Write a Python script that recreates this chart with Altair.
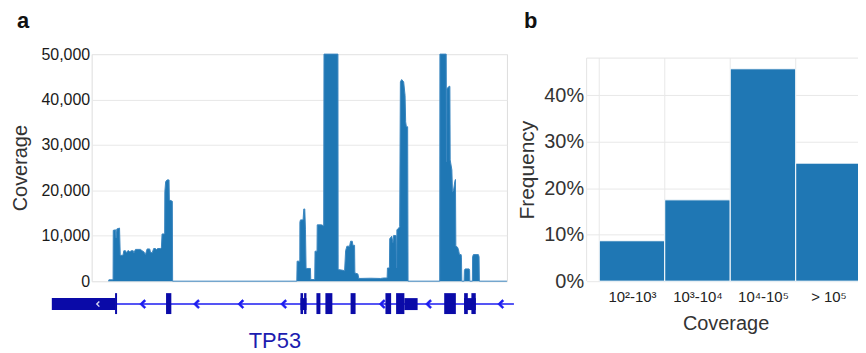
import json
import altair as alt
import pandas as pd

FONT = "Liberation Sans"

# ---------------- Panel a: coverage along TP53 (track position units) ----------------
cov_pos = [
    17.0, 17.3, 21.5, 21.7, 24.0, 24.5, 25.3, 28.0, 28.7, 29.0, 31.5, 32.3, 34.0, 35.0,
    36.3, 37.3, 38.3, 39.7, 41.7, 42.3, 44.0, 49.0, 50.7, 52.3, 54.0, 55.7, 58.3, 59.0,
    60.7, 62.3, 64.0, 65.0, 66.3, 69.0, 70.0, 70.7, 73.3, 73.5, 74.3, 75.7, 77.7, 78.0,
    81.0, 81.3, 206.0,
    206.3, 209.0, 209.1, 209.7, 212.3, 213.0, 214.0, 214.7, 215.3, 219.7, 220.0, 224.0,
    224.3, 226.3, 226.5, 230.7, 233.0, 233.3, 247.3, 247.5, 252.3, 254.0, 255.0, 256.3,
    259.0, 260.0, 261.7, 262.3, 264.0, 264.3, 267.3, 268.3, 280.0, 290.0, 293.3, 296.7,
    297.0, 299.0, 299.3, 301.3, 302.5, 303.3, 305.7, 306.2, 306.5, 308.3, 309.3, 310.0,
    311.3, 313.3, 314.7, 315.3, 316.0, 317.3, 317.7, 349.5,
    349.7, 356.0, 356.3, 356.6, 359.0, 359.7, 360.0, 361.7, 362.3, 363.3, 364.7, 365.3,
    365.7, 367.3, 368.3, 369.3, 371.0, 371.3, 371.7, 374.0, 374.3, 375.0, 379.0, 379.5,
    379.7, 382.3, 382.5, 383.3, 388.3, 389.0, 389.3, 417.0,
]
cov_val = [
    0, 300, 300, 11200, 11300, 9500, 11500, 11700, 5800, 5700, 5700, 6700, 6700, 6200,
    6700, 6700, 6450, 6700, 6700, 6200, 7000, 7000, 6700, 6500, 5850, 7100, 7100, 6450,
    6200, 7200, 7200, 6950, 7200, 7200, 7300, 10400, 10400, 19700, 21900, 22300, 22300, 17900,
    17600, 0, 0,
    4400, 4400, 13000, 13500, 13500, 15900, 15900, 11300, 2800, 2800, 370, 370,
    6600, 6600, 12400, 12400, 12200, 60000, 60000, 2550, 2400, 2300, 6700, 7700,
    7700, 8800, 8800, 7900, 7900, 1800, 1600, 600, 650, 600, 700, 700,
    2900, 2900, 9350, 9900, 8500, 10100, 10000, 2900, 11300, 11700, 12000, 43900,
    44400, 43900, 40900, 35100, 34000, 34000, 0, 0,
    60000, 60000, 26300, 42400, 42900, 42900, 26700, 24500, 19700, 19900, 22000, 22400,
    7700, 7500, 7000, 5850, 5850, 5300, 0, 0, 2400, 2700, 2700, 2400,
    0, 0, 5400, 5850, 5850, 5400, 0, 0,
]
cov_ticks = [0, 10000, 20000, 30000, 40000, 50000]

# gene model (same position units)
thick_start = [-40, 209.7, 314.0, 374.0]
thick_end = [24.0, 215.7, 327.3, 385.7]
exon_start = [23.5, 74.7, 209.7, 213.3, 225.7, 234.7, 260.0, 295.0, 305.7, 354.0, 374.0, 381.3]
exon_end = [25.5, 80.0, 212.3, 215.7, 229.7, 241.7, 265.0, 300.7, 314.0, 365.7, 377.7, 385.7]
intron_start = [24.0]
intron_end = [424.0]
arrow_pos = [51, 105, 149.5, 192.5, 291.5, 338, 410.5]
utr_arrow_pos = [6]
gene_name = ["TP53"]
gene_label_pos = [184]

panel_labels = ["a", "b"]

# ---------------- Panel b: coverage histogram ----------------
bins = ["10²-10³", "10³-10⁴", "10⁴-10⁵", "> 10⁵"]
freq = [0.087, 0.175, 0.457, 0.254]
freq_ticks = [0, 0.1, 0.2, 0.3, 0.4]

EXON = "#0a0aa8"
LINE = "#1c1cf0"
GRID = "#e8e8e8"
AREA = "#1f77b4"

# ---------------- build panel a ----------------
xa = alt.Scale(domain=[0, 417], nice=False, zero=False)
ya = alt.Scale(domain=[0, 50000], nice=False, clamp=True)

cov_df = pd.DataFrame({"pos": cov_pos, "coverage": cov_val})
area = alt.Chart(cov_df).mark_area(
    color=AREA, opacity=1, line={"color": "#3a86c0", "strokeWidth": 1}
).encode(
    x=alt.X("pos:Q", scale=xa, axis=None),
    y=alt.Y(
        "coverage:Q", scale=ya,
        axis=alt.Axis(
            values=cov_ticks, format=",.0f", title="Coverage", grid=True, gridColor=GRID,
            ticks=False, domain=False, labelFontSize=16, labelColor="#1a1a1a", labelFont=FONT,
            labelPadding=2, titleFontSize=20, titleFont=FONT, titleFontWeight="normal",
            titleColor="#333", titlePadding=10,
        ),
    ),
)

intron = alt.Chart(pd.DataFrame({"s": intron_start, "e": intron_end})).mark_rule(
    color=LINE, strokeWidth=1.5
).encode(x=alt.X("s:Q", scale=xa), x2="e:Q", y=alt.value(251))

thick = alt.Chart(pd.DataFrame({"s": thick_start, "e": thick_end})).mark_rect(
    color=EXON
).encode(x=alt.X("s:Q", scale=xa), x2="e:Q", y=alt.value(245), y2=alt.value(257))

exons = alt.Chart(pd.DataFrame({"s": exon_start, "e": exon_end})).mark_rect(
    color=EXON
).encode(x=alt.X("s:Q", scale=xa), x2="e:Q", y=alt.value(240), y2=alt.value(261))

CHEV = "M-0.6,0L0.4,-1L0.75,-0.7L0.05,0L0.75,0.7L0.4,1Z"
arrows = alt.Chart(pd.DataFrame({"p": arrow_pos})).mark_point(
    shape=CHEV, filled=True, strokeWidth=0.6, stroke=LINE, fill=LINE, size=81, opacity=1
).encode(x=alt.X("p:Q", scale=xa), y=alt.value(251))

utr_arrow = alt.Chart(pd.DataFrame({"p": utr_arrow_pos})).mark_point(
    shape=CHEV, filled=True, fill="#d8d8f0", size=36, opacity=1
).encode(x=alt.X("p:Q", scale=xa), y=alt.value(251))

gname = alt.Chart(pd.DataFrame({"p": gene_label_pos, "t": gene_name})).mark_text(
    font=FONT, fontSize=22, color="#1c1cb0", align="center", baseline="alphabetic"
).encode(x=alt.X("p:Q", scale=xa), y=alt.value(295), text="t:N")

lab_a = alt.Chart(pd.DataFrame({"t": panel_labels[:1]})).mark_text(
    font=FONT, fontSize=22, fontWeight="bold", color="#111", align="left", baseline="alphabetic"
).encode(x=alt.value(-75), y=alt.value(-26), text="t:N")

panel_a = alt.layer(area, intron, thick, exons, arrows, utr_arrow, gname, lab_a).properties(
    width=417, height=228
)

# ---------------- build panel b ----------------
XB0, XB1 = -0.193, 4.05
YB1 = 0.48
xb = alt.Scale(domain=[XB0, XB1], nice=False, zero=False)
yb = alt.Scale(domain=[0, YB1], nice=False, zero=False, range=[228, 4])

n = len(bins)
bar_df = pd.DataFrame({"bin": bins, "freq": freq, "lo": list(range(n)), "hi": [i + 1 for i in range(n)]})
label_expr = json.dumps(bins, ensure_ascii=False) + "[floor(datum.value)]"

vgrid = alt.Chart(pd.DataFrame({"e": list(range(n + 1))})).mark_rule(
    color=GRID, strokeWidth=1
).encode(x=alt.X("e:Q", scale=xb), y=alt.datum(0, scale=yb), y2=alt.datum(YB1))

frame_top = alt.Chart(pd.DataFrame({"a": [XB0], "b": [XB1]})).mark_rule(
    color="#e4e4e4", strokeWidth=1
).encode(x=alt.X("a:Q", scale=xb), x2="b:Q", y=alt.datum(YB1, scale=yb))
frame_left = alt.Chart(pd.DataFrame({"a": [XB0]})).mark_rule(
    color="#e4e4e4", strokeWidth=1
).encode(x=alt.X("a:Q", scale=xb), y=alt.datum(0, scale=yb), y2=alt.datum(YB1))

bars = alt.Chart(bar_df).mark_rect(color=AREA, stroke="white", strokeWidth=1).encode(
    x=alt.X(
        "lo:Q", scale=xb,
        axis=alt.Axis(
            values=[i + 0.5 for i in range(n)], labelExpr=label_expr, grid=False, ticks=False,
            domain=False, labelFontSize=15, labelFont=FONT, labelColor="#222", labelPadding=8,
            title="Coverage", titleFontSize=20, titleFont=FONT, titleFontWeight="normal",
            titleColor="#333", titlePadding=10,
        ),
    ),
    x2="hi:Q",
    y=alt.Y(
        "freq:Q", scale=yb,
        axis=alt.Axis(
            values=freq_ticks, format=".0%", grid=True, gridColor=GRID, ticks=False, domain=False,
            labelFontSize=20, labelFont=FONT, labelColor="#333", labelPadding=3,
            title="Frequency", titleFontSize=21, titleFont=FONT, titleFontWeight="normal",
            titleColor="#333", titlePadding=6,
        ),
    ),
    y2=alt.datum(0),
)

lab_b = alt.Chart(pd.DataFrame({"t": panel_labels[1:]})).mark_text(
    font=FONT, fontSize=22, fontWeight="bold", color="#111", align="left", baseline="alphabetic"
).encode(x=alt.value(-63), y=alt.value(-26), text="t:N")

panel_b = alt.layer(vgrid, frame_top, frame_left, bars, lab_b).properties(
    width=279, height=228, view=alt.ViewBackground(strokeOpacity=0)
)

chart = alt.hconcat(panel_a, panel_b, spacing=0).properties(
    padding={"left": 2, "top": 0.6, "right": -7.5, "bottom": 0}
).configure_view(stroke="#e4e4e4").configure(font=FONT)

chart.save("out.html", embed_options={"renderer": "svg", "actions": False})
